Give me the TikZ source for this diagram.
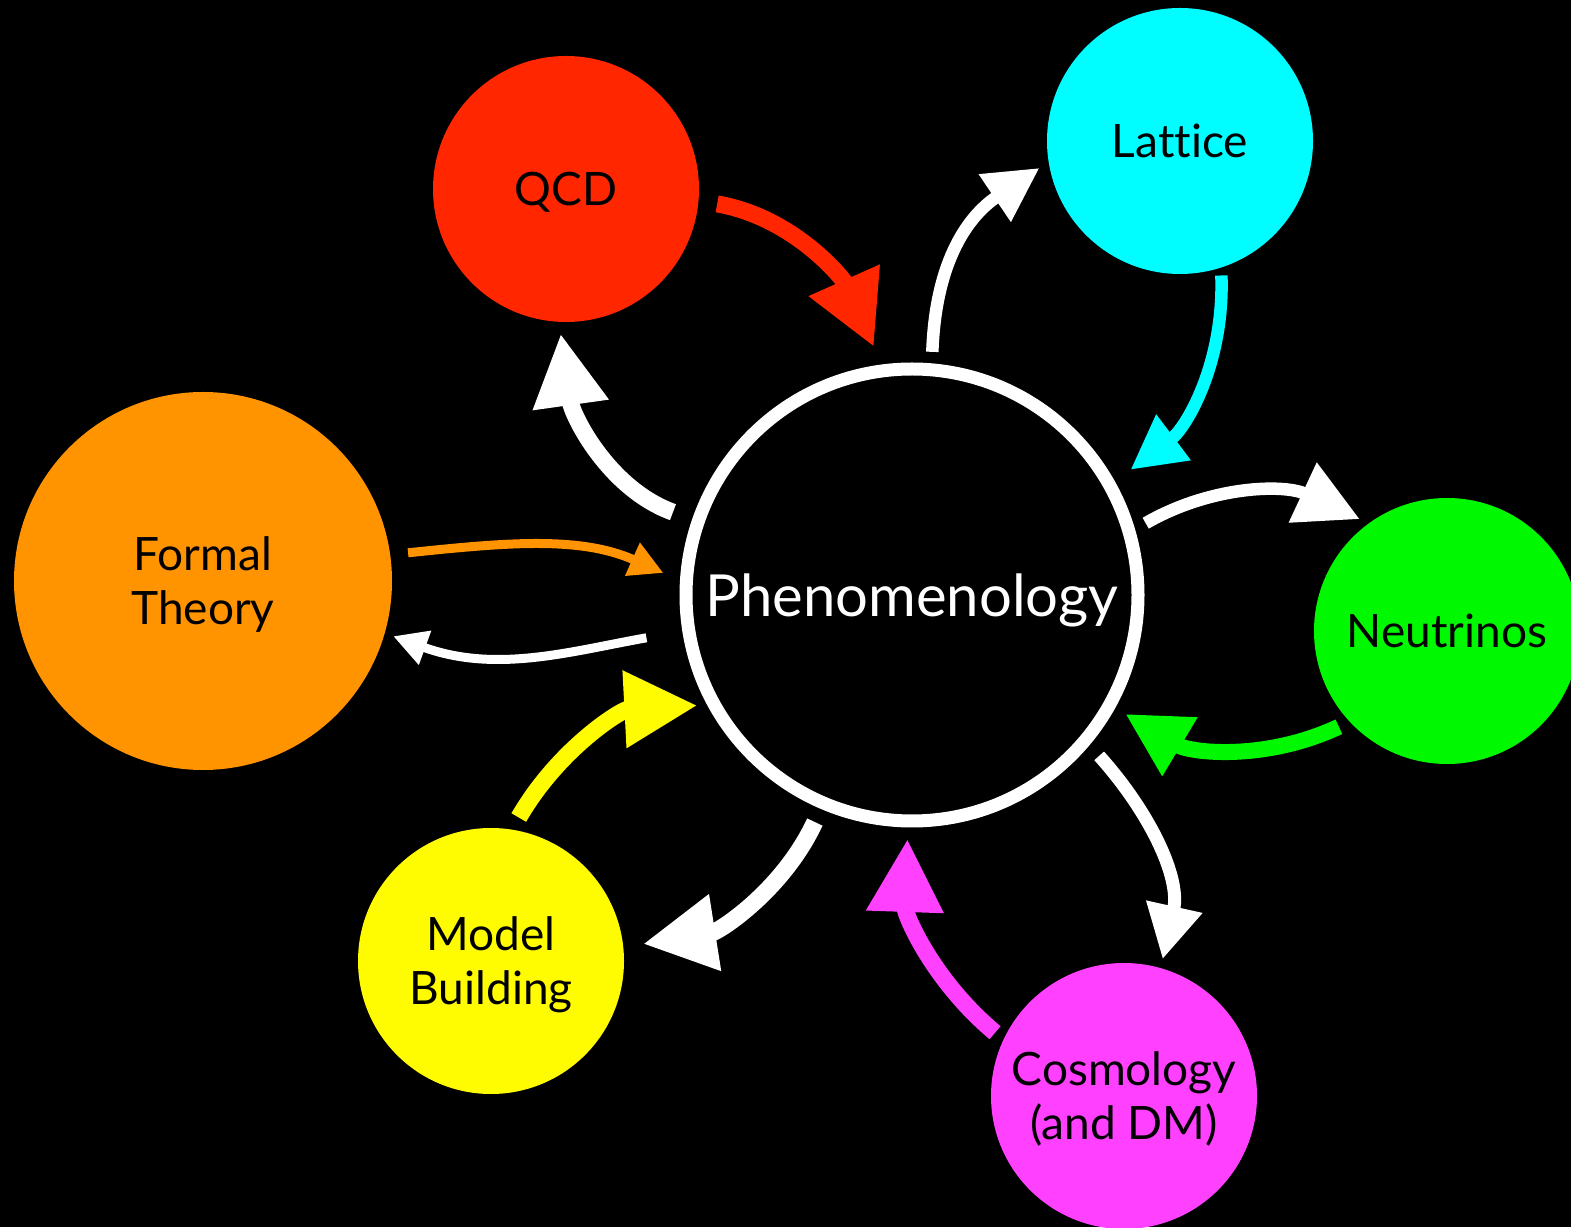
\documentclass[tikz,border=0pt]{standalone}
\usepackage{fontspec}
\setmainfont[Ligatures=NoCommon]{Lato}
\usetikzlibrary{arrows.meta}

\definecolor{qcdred}{RGB}{255,38,0}
\definecolor{latcyan}{RGB}{0,253,255}
\definecolor{formorange}{RGB}{255,147,0}
\definecolor{neugreen}{RGB}{0,249,0}
\definecolor{modyellow}{RGB}{255,251,0}
\definecolor{cosmagenta}{RGB}{255,64,255}

\tikzset{
  bubble/.style={circle,fill=#1,inner sep=0pt,outer sep=0pt,minimum size=266pt,
    align=center,text depth=0pt,font=\fontsize{46}{54}\selectfont},
  flow/.style 2 args={line width=#1,-{Triangle[length=#2,width=#2]}}
}

\begin{document}
\begin{tikzpicture}[x=1pt,y=1pt]
	\fill[black] (0,0) rectangle (1571,1227);
	\useasboundingbox (0,0) rectangle (1571,1227);
	% the hub
	\node[circle,draw=white,line width=13pt,fill=black,inner sep=0pt,outer sep=0pt,
		minimum size=452pt,text=white,text depth=0pt,font=\fontsize{58}{64}\selectfont] (phen) at (912,632) {Phenomenology};
	% the fields round it
	\node[bubble=qcdred] (qcd) at (566,1038) {QCD};
	\node[bubble=latcyan] (lattice) at (1180,1086) {Lattice};
	\node[bubble=formorange,minimum size=378pt] (formal) at (203,646) {Formal\\Theory};
	\node[bubble=neugreen] (neut) at (1447,596) {Neutrinos};
	\node[bubble=modyellow] (model) at (491,266) {Model\\Building};
	\node[bubble=cosmagenta] (cosmo) at (1124,131) {Cosmology\\(and DM)};
	% arrows in and out
	\draw[flow={17pt}{73pt},qcdred,shorten <=19pt,shorten >=26pt] (qcd.-5) to[out=-10,in=114] (phen.97);
	\draw[flow={12.5pt}{54pt},white,shorten <=18pt,shorten >=11pt] (phen.85.5) to[out=88,in=214,looseness=1.1] (lattice.189.6);
	\draw[flow={12.5pt}{54pt},latcyan,shorten <=8pt,shorten >=26pt] (lattice.-72) to[out=-88,in=37] (phen.29.4);
	\draw[flow={12.5pt}{63pt},white,shorten <=19pt,shorten >=10pt] (phen.16.8) to[out=30,in=155] (neut.126.5);
	\draw[flow={16pt}{64pt},neugreen,shorten <=12pt,shorten >=18pt] (neut.223) to[out=205,in=-31] (phen.-29);
	\draw[flow={13pt}{54pt},white,shorten <=21pt,shorten >=9pt] (phen.-40.4) to[out=-48,in=77.5] (cosmo.74);
	\draw[flow={17pt}{73pt},cosmagenta,shorten <=11pt,shorten >=18pt] (cosmo.155.4) to[out=140,in=-92] (phen.-91.2);
	\draw[flow={17pt}{73pt},white,shorten <=21pt,shorten >=20pt] (phen.247.6) to[out=-115,in=9] (model.6.4);
	\draw[flow={17pt}{73pt},modyellow,shorten <=14pt,shorten >=17pt] (model.81.8) to[out=60,in=183] (phen.209);
	\draw[flow={17pt}{72pt},white,shorten <=27pt,shorten >=12pt] (phen.161) to[out=160,in=-82] (qcd.-93.2);
	\draw[flow={9pt}{34pt},formorange,shorten <=18pt,shorten >=25pt] (formal.8.2) to[out=6,in=156] (phen.177);
	\draw[flow={9pt}{34pt},white,shorten <=43pt,shorten >=9pt] (phen.189.6) to[out=190,in=-20] (formal.-16.6);
\end{tikzpicture}
\end{document}
